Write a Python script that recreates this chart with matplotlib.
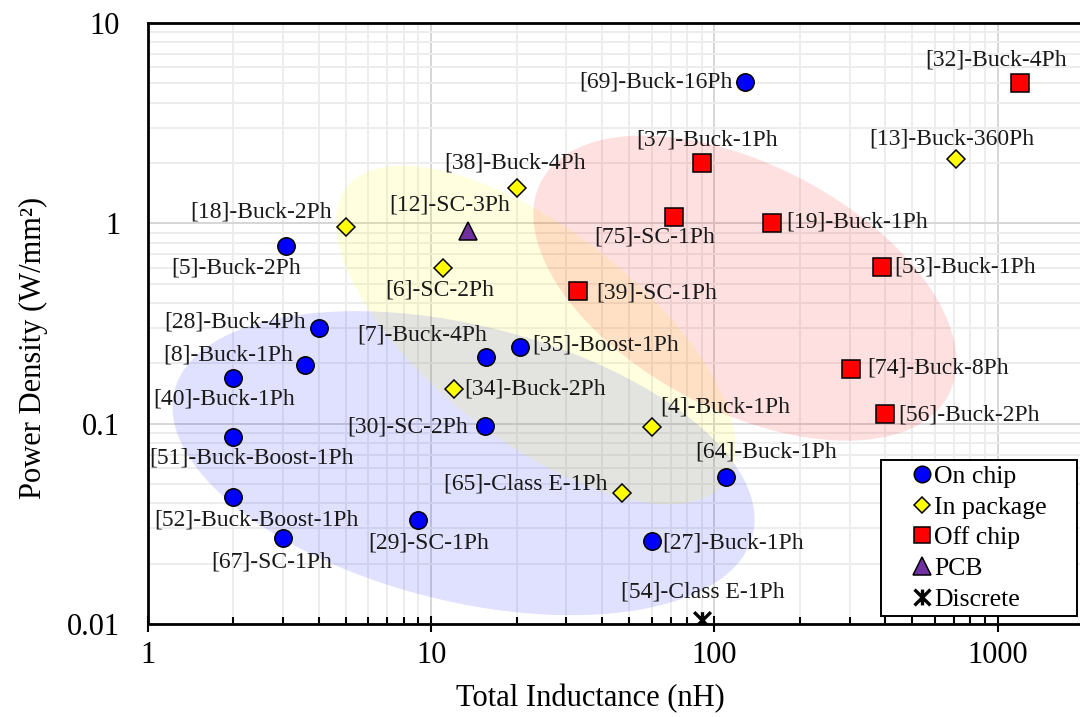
import numpy as np
import matplotlib
matplotlib.use('Agg')
import matplotlib.pyplot as plt
from matplotlib.path import Path

plt.rcParams['font.family'] = ['Liberation Serif', 'DejaVu Serif']

# ---- data: total inductance (nH) vs power density (W/mm^2) ----
on_chip_refs = ['[69]-Buck-16Ph', '[5]-Buck-2Ph', '[28]-Buck-4Ph', '[8]-Buck-1Ph',
                '[40]-Buck-1Ph', '[51]-Buck-Boost-1Ph', '[52]-Buck-Boost-1Ph',
                '[67]-SC-1Ph', '[29]-SC-1Ph', '[27]-Buck-1Ph', '[64]-Buck-1Ph',
                '[30]-SC-2Ph', '[7]-Buck-4Ph', '[35]-Boost-1Ph']
on_chip_L = [128, 3.07, 4.0, 3.58, 2.0, 2.0, 2.0, 3.0, 9.0, 60, 110, 15.5, 15.6, 20.6]
on_chip_pd = [5.1, 0.77, 0.30, 0.196, 0.169, 0.086, 0.043, 0.027, 0.033, 0.026, 0.054,
              0.097, 0.215, 0.241]

pkg_refs = ['[18]-Buck-2Ph', '[38]-Buck-4Ph', '[13]-Buck-360Ph', '[6]-SC-2Ph',
            '[34]-Buck-2Ph', '[4]-Buck-1Ph', '[65]-Class E-1Ph']
pkg_L = [5.0, 20, 710, 11, 12, 60, 47]
pkg_pd = [0.96, 1.5, 2.1, 0.60, 0.149, 0.096, 0.045]

off_refs = ['[32]-Buck-4Ph', '[37]-Buck-1Ph', '[75]-SC-1Ph', '[19]-Buck-1Ph',
            '[53]-Buck-1Ph', '[39]-SC-1Ph', '[74]-Buck-8Ph', '[56]-Buck-2Ph']
off_L = [1200, 90, 72, 159, 390, 33, 303, 400]
off_pd = [5.0, 2.0, 1.07, 1.0, 0.605, 0.46, 0.1875, 0.112]

pcb_refs = ['[12]-SC-3Ph']
pcb_L = [13.5]
pcb_pd = [0.915]

disc_refs = ['[54]-Class E-1Ph']
disc_L = [90]
disc_pd = [0.0105]

# label placement: offset in pixels (right, up) and horizontal alignment
label_pos = {
    '[69]-Buck-16Ph': (-12, 0, 'right'), '[32]-Buck-4Ph': (-24, 23, 'center'),
    '[13]-Buck-360Ph': (-4, 20, 'center'), '[37]-Buck-1Ph': (6, 23, 'center'),
    '[38]-Buck-4Ph': (-1, 25, 'center'), '[18]-Buck-2Ph': (-14, 15, 'right'),
    '[12]-SC-3Ph': (-18, 26, 'center'), '[75]-SC-1Ph': (-19, -20, 'center'),
    '[19]-Buck-1Ph': (15, 1, 'left'), '[5]-Buck-2Ph': (-50, -22, 'center'),
    '[6]-SC-2Ph': (-3, -22, 'center'), '[53]-Buck-1Ph': (12, 0, 'left'),
    '[39]-SC-1Ph': (18, -2, 'left'), '[28]-Buck-4Ph': (-13, 6, 'right'),
    '[7]-Buck-4Ph': (-64, 22, 'center'), '[35]-Boost-1Ph': (12, 2, 'left'),
    '[8]-Buck-1Ph': (-12, 10, 'right'), '[40]-Buck-1Ph': (-9, -21, 'center'),
    '[74]-Buck-8Ph': (16, 1, 'left'), '[34]-Buck-2Ph': (11, 0, 'left'),
    '[4]-Buck-1Ph': (9, 20, 'left'), '[56]-Buck-2Ph': (13, -1, 'left'),
    '[30]-SC-2Ph': (-17, -1, 'right'), '[51]-Buck-Boost-1Ph': (18, -21, 'center'),
    '[64]-Buck-1Ph': (40, 25, 'center'), '[65]-Class E-1Ph': (-14, 9, 'right'),
    '[52]-Buck-Boost-1Ph': (23, -23, 'center'), '[29]-SC-1Ph': (10, -23, 'center'),
    '[67]-SC-1Ph': (-11, -24, 'center'), '[27]-Buck-1Ph': (11, -2, 'left'),
    '[54]-Class E-1Ph': (1, 28, 'center'),
}

# shaded regions: centre (nH, W/mm2), semi-axes in x-decades, tilt in degrees
regions = [
    (13.0, 0.0635, 1.052, 0.487, -14, '#0000ff'),
    (23.4, 0.277, 0.847, 0.371, -38, '#ffff00'),
    (128, 0.475, 0.812, 0.434, -27.7, '#ff0000'),
]

xmin, xmax, ymin, ymax = 1, 2000, 0.01, 10

fig = plt.figure(figsize=(10.8, 7.17), dpi=100)
ax = fig.add_axes([148 / 1080, 93 / 717, 935 / 1080, 601 / 717])
ax.set_xscale('log')
ax.set_yscale('log')
ax.set_xlim(xmin, xmax)
ax.set_ylim(ymin, ymax)

# y-decade length relative to x-decade length on screen
w_px = 935 / np.log10(xmax / xmin)
h_px = 601 / np.log10(ymax / ymin)
k = h_px / w_px

t = np.linspace(0, 2 * np.pi, 400)
for cx, cy, a, b, ang, col in regions:
    u, v = a * np.cos(t), b * np.sin(t)
    phi = np.radians(ang)
    lx = np.log10(cx) + u * np.cos(phi) - v * np.sin(phi)
    ly = np.log10(cy) + (u * np.sin(phi) + v * np.cos(phi)) / k
    ax.fill(10 ** lx, 10 ** ly, color=col, alpha=0.12, lw=0, zorder=1)

# X with a vertical bar through it
star = Path([(-1, -1), (1, 1), (-1, 1), (1, -1), (0, -1), (0, 1)],
            [Path.MOVETO, Path.LINETO, Path.MOVETO, Path.LINETO, Path.MOVETO, Path.LINETO])

series = [
    (on_chip_refs, on_chip_L, on_chip_pd, 'On chip', dict(marker='o', ms=12.5, mfc='#0000ff')),
    (pkg_refs, pkg_L, pkg_pd, 'In package', dict(marker='D', ms=9, mfc='#ffff00')),
    (off_refs, off_L, off_pd, 'Off chip', dict(marker='s', ms=12.5, mfc='#ff0000')),
    (pcb_refs, pcb_L, pcb_pd, 'PCB', dict(marker='^', ms=13, mfc='#7030a0')),
    (disc_refs, disc_L, disc_pd, 'Discrete', dict(marker=star, ms=12, mfc='none', mew=2.4)),
]

handles = []
for refs, xs, ys, name, style in series:
    style.setdefault('mew', 1.1)
    h, = ax.plot(xs, ys, ls='none', mec='black', zorder=4, label=name, **style)
    handles.append(h)
    for r, x, y in zip(refs, xs, ys):
        dx, dy, ha = label_pos[r]
        ax.annotate(r, (x, y), xytext=(dx, dy), textcoords='offset pixels',
                    ha=ha, va='center', fontsize=17, color='#1a1a1a', zorder=5)

ax.set_xticks([1, 10, 100, 1000], ['1', '10', '100', '1000'])
ax.set_yticks([0.01, 0.1, 1, 10], ['0.01', '0.1', '1', '10'])
ax.tick_params(axis='x', which='major', direction='inout', length=12, width=1.5,
               labelsize=22, pad=6)
ax.tick_params(axis='x', which='minor', direction='in', length=5, width=1.5)
ax.tick_params(axis='y', which='both', length=0, labelsize=22, pad=20)
ax.xaxis.set_minor_formatter(plt.NullFormatter())
ax.yaxis.set_minor_formatter(plt.NullFormatter())

ax.set_axisbelow(True)
ax.grid(which='major', color='#d6d6d6', lw=1.4)
ax.grid(which='minor', color='#ededed', lw=1.4)
for s in ['top', 'left', 'bottom']:
    ax.spines[s].set_linewidth(2)
ax.spines['right'].set_visible(False)

ax.set_xlabel('Total Inductance (nH)', fontsize=22)
ax.xaxis.set_label_coords(0.473, -0.10)
ax.set_ylabel('Power Density (W/mm²)', fontsize=22)
ax.yaxis.set_label_coords(-0.107, 0.46)

leg = ax.legend(handles=handles, loc='upper left', bbox_to_anchor=(0.784, 0.0, 0.2096, 0.273),
                mode='expand', borderaxespad=0, fontsize=18.5, markerscale=0.95,
                frameon=True, fancybox=False, edgecolor='black', framealpha=1,
                borderpad=0.2, handlelength=2.75, handletextpad=-0.87, labelspacing=0.3)
leg.get_frame().set_linewidth(1.4)
leg.set_zorder(6)

fig.savefig('out.png', dpi=100)
